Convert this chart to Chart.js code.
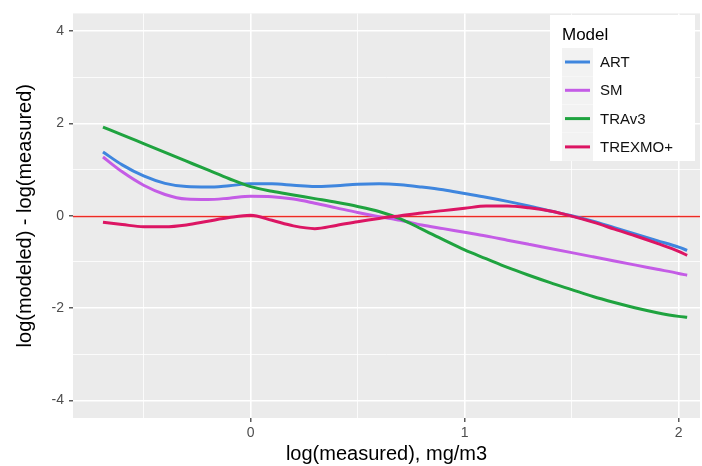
<!DOCTYPE html>
<html>
<head>
<meta charset="utf-8">
<script src="https://cdn.jsdelivr.net/npm/chart.js@4/dist/chart.umd.min.js"></script>
<style>
  html, body { margin: 0; padding: 0; background: #fff; }
  #wrap { width: 702px; height: 466px; }
</style>
</head>
<body>
<div id="wrap"><canvas id="c"></canvas></div>
<script>
// smoothed residual curves
const xs      = [-0.69, -0.6, -0.5, -0.4, -0.3, -0.2, -0.1, 0, 0.1, 0.2, 0.3, 0.4, 0.5, 0.6, 0.7, 0.8, 0.9, 1.0, 1.1, 1.2, 1.3, 1.4, 1.5, 1.6, 1.7, 1.8, 1.9, 2.0, 2.04];
const art     = [1.38, 1.10, 0.86, 0.70, 0.63, 0.62, 0.65, 0.69, 0.69, 0.66, 0.63, 0.65, 0.68, 0.69, 0.67, 0.62, 0.56, 0.48, 0.40, 0.31, 0.21, 0.10, 0.00, -0.12, -0.26, -0.40, -0.54, -0.68, -0.75];
const sm      = [1.27, 0.95, 0.66, 0.46, 0.36, 0.35, 0.38, 0.42, 0.41, 0.36, 0.27, 0.17, 0.07, -0.02, -0.10, -0.20, -0.28, -0.36, -0.44, -0.53, -0.62, -0.71, -0.80, -0.89, -0.98, -1.07, -1.16, -1.25, -1.29];
const trav3   = [1.92, 1.75, 1.56, 1.37, 1.18, 0.99, 0.80, 0.63, 0.53, 0.45, 0.37, 0.29, 0.20, 0.09, -0.07, -0.29, -0.52, -0.74, -0.93, -1.12, -1.29, -1.45, -1.60, -1.75, -1.88, -2.00, -2.10, -2.18, -2.20];
const trexmo  = [-0.14, -0.19, -0.24, -0.24, -0.20, -0.12, -0.04, 0.01, -0.10, -0.22, -0.28, -0.21, -0.13, -0.06, 0.00, 0.06, 0.11, 0.16, 0.21, 0.21, 0.17, 0.10, -0.01, -0.14, -0.29, -0.44, -0.60, -0.77, -0.86];

const models      = ['ART', 'SM', 'TRAv3', 'TREXMO+'];
const series      = [art, sm, trav3, trexmo];
const modelColors = ['#3f86de', '#c45ce6', '#1fa33f', '#dc1563'];

const xTicks   = [-0.5, 0, 0.5, 1, 1.5, 2];
const xLabeled = [0, 1, 2];
const yTicks   = [-4, -3, -2, -1, 0, 1, 2, 3, 4];
const yLabeled = [-4, -2, 0, 2, 4];

const FONT = "'Liberation Sans', Arial, sans-serif";
Chart.defaults.font.family = FONT;

const panelBg = {
  id: 'panelBg',
  beforeDraw(chart) {
    const { ctx, chartArea: a } = chart;
    ctx.save();
    ctx.fillStyle = '#ebebeb';
    ctx.fillRect(a.left, a.top, a.right - a.left, a.bottom - a.top);
    ctx.restore();
  }
};

const zeroLine = {
  id: 'zeroLine',
  beforeDatasetsDraw(chart) {
    const { ctx, chartArea: a, scales } = chart;
    const y = Math.round(scales.y.getPixelForValue(0)) + 0.5;
    ctx.save();
    ctx.strokeStyle = '#ec2b24';
    ctx.lineWidth = 1.4;
    ctx.beginPath();
    ctx.moveTo(a.left, y);
    ctx.lineTo(a.right, y);
    ctx.stroke();
    ctx.restore();
  }
};

// ggplot-style legend box inside the panel
const modelLegend = {
  id: 'modelLegend',
  afterDraw(chart) {
    const { ctx } = chart;
    const bx = 550, by = 15, bw = 145, bh = 146;
    ctx.save();
    ctx.fillStyle = '#fff';
    ctx.fillRect(bx, by, bw, bh);
    ctx.fillStyle = '#000';
    ctx.font = `17px ${FONT}`;
    ctx.textBaseline = 'middle';
    ctx.fillText('Model', 562, 35);
    ctx.font = `15px ${FONT}`;
    chart.data.datasets.forEach((ds, i) => {
      const cy = 62 + i * 28.3;
      ctx.fillStyle = '#f2f2f2';
      ctx.fillRect(562, cy - 14, 31, 28);
      ctx.strokeStyle = ds.borderColor;
      ctx.lineWidth = 3;
      ctx.beginPath();
      ctx.moveTo(565, cy);
      ctx.lineTo(590, cy);
      ctx.stroke();
      ctx.fillStyle = '#111';
      ctx.fillText(ds.label, 600, cy + 1);
    });
    ctx.restore();
  }
};

const datasets = models.map((m, i) => ({
  label: m,
  data: xs.map((x, j) => ({ x, y: series[i][j] })),
  borderColor: modelColors[i],
  backgroundColor: modelColors[i],
  borderWidth: 3,
  pointRadius: 0,
  tension: 0.4,
  cubicInterpolationMode: 'monotone',
  fill: false,
  order: models.length - i
}));

new Chart(document.getElementById('c'), {
  type: 'line',
  data: { datasets },
  plugins: [panelBg, zeroLine, modelLegend],
  options: {
    responsive: true,
    maintainAspectRatio: false,
    animation: false,
    layout: { padding: { top: 12, right: 2, left: 0, bottom: 0 } },
    plugins: { legend: { display: false }, tooltip: { enabled: false } },
    scales: {
      x: {
        type: 'linear',
        min: -0.83,
        max: 2.1,
        afterBuildTicks: s => { s.ticks = xTicks.map(v => ({ value: v })); },
        afterFit: s => { s.height = 48; },
        ticks: {
          callback: v => xLabeled.includes(v) ? String(v) : '',
          color: '#4d4d4d',
          font: { size: 14 },
          padding: 3,
          maxRotation: 0,
          autoSkip: false
        },
        grid: {
          color: '#fff',
          lineWidth: c => xLabeled.includes(c.tick.value) ? 1.6 : 0.8,
          tickColor: c => xLabeled.includes(c.tick.value) ? '#333' : 'rgba(0,0,0,0)',
          tickWidth: 1.2,
          tickLength: 4
        },
        border: { display: false },
        title: {
          display: true,
          text: 'log(measured), mg/m3',
          color: '#000',
          font: { size: 20 },
          padding: { top: 0, bottom: 0 }
        }
      },
      y: {
        min: -4.38,
        max: 4.38,
        afterBuildTicks: s => { s.ticks = yTicks.map(v => ({ value: v })); },
        afterFit: s => { s.width = 73; },
        ticks: {
          callback: v => yLabeled.includes(v) ? String(v) : '',
          color: '#4d4d4d',
          font: { size: 14 },
          padding: 5,
          autoSkip: false
        },
        grid: {
          color: '#fff',
          lineWidth: c => yLabeled.includes(c.tick.value) ? 1.6 : 0.8,
          tickColor: c => yLabeled.includes(c.tick.value) ? '#333' : 'rgba(0,0,0,0)',
          tickWidth: 1.2,
          tickLength: 4
        },
        border: { display: false },
        title: {
          display: true,
          text: 'log(modeled) - log(measured)',
          color: '#000',
          font: { size: 20 },
          padding: { top: 13, bottom: 0 }
        }
      }
    }
  }
});
</script>
</body>
</html>
